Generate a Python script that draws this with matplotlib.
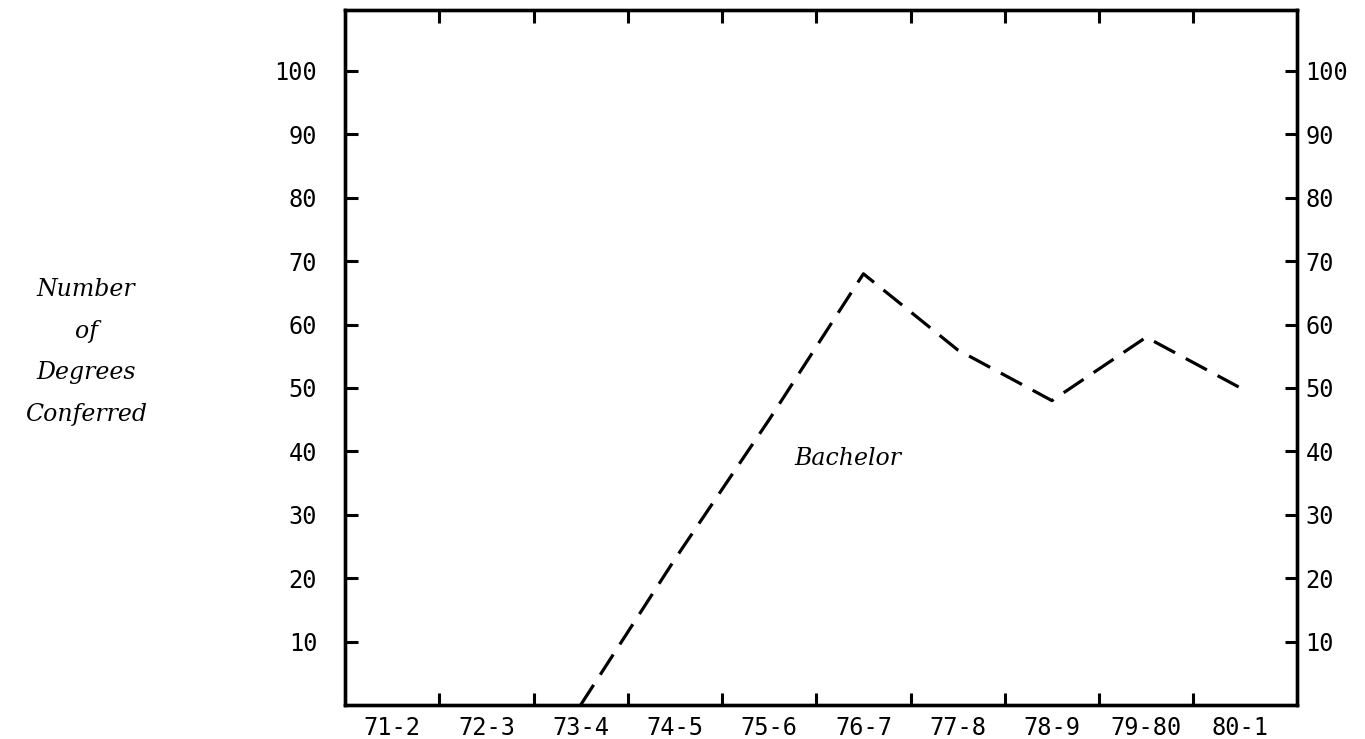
import numpy as np
import matplotlib.pyplot as plt

# degrees conferred per academic year
years = ['71-2', '72-3', '73-4', '74-5', '75-6', '76-7', '77-8', '78-9', '79-80', '80-1']
bachelor = [np.nan, np.nan, 0, 23, 45, 68, 56, 48, 58, 50]
y_ticks = [10, 20, 30, 40, 50, 60, 70, 80, 90, 100]
title_lines = ['Number', 'of', 'Degrees', 'Conferred']

W, H = 1365, 739
fig = plt.figure(figsize=(W / 100, H / 100), dpi=100)
ax = fig.add_axes([345 / W, 34 / H, 952 / W, 695 / H])

x = np.arange(len(years)) + 0.5   # each year sits in the middle of its slot
ax.plot(x, bachelor, color='black', lw=2.3, ls=(0, (7.5, 3.8)), dash_capstyle='butt')

ax.set_xlim(0, 10.1)
ax.set_ylim(0, 109.6)

# boundaries between years get the tick marks, labels go in the middle
ax.set_xticks(np.arange(1, len(years)))
ax.set_xticks(x, minor=True)
ax.set_xticklabels([], minor=False)
ax.set_xticklabels(years, minor=True)
ax.tick_params(axis='x', which='minor', length=0, pad=8)
ax.tick_params(axis='x', which='major', direction='in', length=9, width=2.2,
               top=True, bottom=True)

ax.set_yticks(y_ticks)
ax.tick_params(axis='y', direction='in', length=9, width=2.2, pad=20,
               left=True, right=False)

# right hand scale is a copy of the left one, closer to its axis
ax2 = ax.twinx()
ax2.set_ylim(ax.get_ylim())
ax2.set_yticks(y_ticks)
ax2.tick_params(axis='y', direction='in', length=9, width=2.2, pad=6)

for lab in ax.get_xticklabels(minor=True) + ax.get_yticklabels() + ax2.get_yticklabels():
    lab.set_family('DejaVu Sans Mono')
    lab.set_fontsize(17)

for a in (ax, ax2):
    for s in a.spines.values():
        s.set_linewidth(2.4)

ax.text(5.33, 38.8, 'Bachelor', family='DejaVu Serif', style='italic',
        fontsize=17, ha='center', va='center')

# stacked y axis title on the left
for i, line in enumerate(title_lines):
    fig.text(86 / W, 1 - (290 + 41.5 * i) / H, line, family='DejaVu Serif',
             style='italic', fontsize=17, ha='center', va='center')

plt.savefig('out.png', dpi=100)
